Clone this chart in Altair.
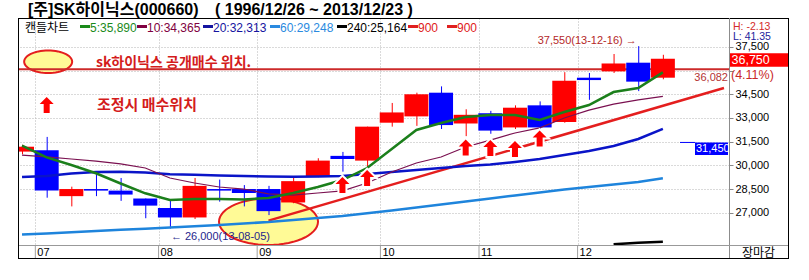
import math
import altair as alt
import pandas as pd

# ---------------- data (weekly candles, SK hynix 2013) ----------------
week_labels = ["06-24", "07-01", "07-08", "07-15", "07-22", "07-29", "08-05", "08-12", "08-19",
               "08-26", "09-02", "09-09", "09-16", "09-23", "09-30", "10-07", "10-14", "10-21",
               "10-28", "11-04", "11-11", "11-18", "11-25", "12-02", "12-09", "12-16", "12-23"]
opens = [30870, 30950, 28050, 28500, 28400, 27900, 27300, 26700, 28500, 28500, 28500, 27650, 29300,
         30600, 30300, 32700, 33100, 34600, 32650, 33300, 32400, 33800, 32750, 35550, 35950, 36500, 35550]
highs = [31300, 31800, 28650, 29550, 29200, 27900, 27800, 29200, 29100, 28750, 28700, 29250, 30450,
         30850, 32450, 33950, 34600, 35000, 33550, 33450, 33800, 34050, 35900, 35850, 37050, 37550, 37000]
lows = [30700, 27950, 27400, 28050, 27750, 26650, 26000, 26600, 27700, 27400, 26850, 27600, 29250,
        29600, 29700, 32450, 32500, 32300, 31850, 32000, 32300, 32250, 32700, 34150, 35850, 34700, 35450]
closes = [31180, 28400, 28500, 28400, 28150, 27450, 26700, 28700, 28400, 28250, 27100, 29000, 30300,
          30400, 32450, 33350, 34500, 32550, 33200, 32200, 33650, 32400, 35350, 35400, 36450, 35300, 36750]

ma5 = [31250, 30500, 30020, 29500, 28850, 28230, 27810, 27870, 27870, 27840, 27930, 28250, 28630,
       29070, 29830, 31040, 32240, 32680, 33060, 33190, 33190, 32870, 33380, 33820, 34640, 34900, 35890]
ma10 = [30650, 30530, 30400, 30270, 30090, 29830, 29200, 28880, 28630, 28500, 28190, 28120, 28250,
        28380, 28880, 29580, 30150, 30530, 31160, 31600, 32050, 32370, 33000, 33500, 33880, 34140, 34365]
ma20 = [29260, 29330, 29480, 29580, 29600, 29540, 29440, 29400, 29360, 29330, 29290, 29280, 29290,
        29330, 29450, 29580, 29700, 29830, 29960, 30050, 30210, 30400, 30660, 30910, 31230, 31670, 32313]
ma60 = [25620, 25690, 25770, 25850, 25920, 25990, 26060, 26140, 26220, 26320, 26410, 26540, 26670,
        26790, 26970, 27140, 27330, 27520, 27710, 27900, 28090, 28280, 28470, 28630, 28790, 28950, 29180]
ma240_weeks = [24, 25, 26]
ma240_tail = [25000, 25100, 25164]

month_labels = ["07", "08", "09", "10", "11", "12"]
month_first_week = [1, 6, 10, 15, 19, 23]
grid_values = [27000, 28500, 30000, 31500, 33000, 34500, 36000, 37500]

legend_names = ["5:35,890", "10:34,365", "20:32,313", "60:29,248", "240:25,164", "900", "900"]
resistance_price = 36082
marker_price = 31450
trend_weeks = [10.0, 28.48]
trend_prices = [26500, 34900]
buy_arrow_weeks = [1.0, 13, 14, 18, 19, 20, 21]
buy_arrow_prices = [33820, 28755, 29200, 31130, 31100, 31035, 31700]
ellipse_weeks = [1.06, 10.0]
ellipse_prices = [36563, 26432]

# ---------------- styling ----------------
FONT = "Liberation Sans, Noto Sans CJK KR, DejaVu Sans"
KFONT = "Noto Sans CJK KR, Liberation Sans, DejaVu Sans"
UP, DOWN = "#ff0000", "#0000ff"
C5, C10, C20, C60, C240 = "#1b7f1b", "#7a1050", "#0a14c8", "#1e84dc", "#000000"
LEG_COLORS = ["#1a8a1a", "#800040", "#1414a0", "#2a8ae0", "#000000", "#e02020", "#e02020"]
LEG_X = [61, 118, 184, 251, 318, 389, 428]
ANN_RED = "#d41c1c"

n = len(closes)
idx = list(range(n))
candles = pd.DataFrame({"i": idx, "week": week_labels, "open": opens, "high": highs,
                        "low": lows, "close": closes})
mas = pd.DataFrame({"i": idx, "ma5": ma5, "ma10": ma10, "ma20": ma20, "ma60": ma60})
ma240_df = pd.DataFrame({"i": ma240_weeks, "v": ma240_tail})
trend_df = pd.DataFrame({"i": trend_weeks, "v": trend_prices})
arrows_df = pd.DataFrame({"i": buy_arrow_weeks, "v": buy_arrow_prices})
months_df = pd.DataFrame({"i": [w - 0.46 for w in month_first_week], "label": month_labels})
one = pd.DataFrame({"k": [0]})

xs = alt.Scale(domain=[0.08, 28.48], nice=False, zero=False)
ys = alt.Scale(domain=[24956, 39330], nice=False, zero=False)
x_axis = alt.Axis(values=[w - 0.46 for w in month_first_week], grid=True, gridColor="#b4b4b4",
                  gridDash=[1, 2], labels=False, ticks=False, domain=False, title=None)
y_axis = alt.Axis(orient="right", values=grid_values, grid=True, gridColor="#b4b4b4",
                  gridDash=[1, 2], domain=False, ticks=True, tickSize=4, tickColor="#888888",
                  labelFont="Liberation Sans", labelFontSize=11, labelColor="#000000",
                  labelPadding=2, labelOverlap=False,
                  labelExpr="datum.value == 36000 ? '' : format(datum.value, ',')", title=None)


def X(f):
    return alt.X(f, type="quantitative", scale=xs, axis=x_axis)


def Y(f):
    return alt.Y(f, type="quantitative", scale=ys, axis=y_axis)


def ellipse_shape(ratio, k=60):
    pts = [(math.cos(2 * math.pi * j / k), ratio * math.sin(2 * math.pi * j / k)) for j in range(k)]
    return "M" + " L".join(f"{a:.4f},{b:.4f}" for a, b in pts) + " Z"


ARROW = "M0,-1 L0.875,-0.125 L0.375,-0.125 L0.375,1 L-0.375,1 L-0.375,-0.125 L-0.875,-0.125 Z"


def px_text(txt, x, y, color="#000000", size=11, weight="normal", font=FONT, align="left"):
    return alt.Chart(one).mark_text(text=txt, align=align, baseline="middle", font=font,
                                    fontSize=size, fontWeight=weight, color=color).encode(
        x=alt.value(x), y=alt.value(y))


def px_rule(x, y, x2=None, y2=None, color="#000000", width=1):
    enc = {"x": alt.value(x), "y": alt.value(y)}
    if x2 is not None:
        enc["x2"] = alt.value(x2)
    if y2 is not None:
        enc["y2"] = alt.value(y2)
    return alt.Chart(one).mark_rule(color=color, strokeWidth=width).encode(**enc)


def px_rect(x, y, x2, y2, color):
    return alt.Chart(one).mark_rect(color=color).encode(
        x=alt.value(x), x2=alt.value(x2), y=alt.value(y), y2=alt.value(y2))


def ann_text(txt, i, v, color, size, weight="normal", font=FONT):
    return alt.Chart(pd.DataFrame({"i": [i], "v": [v]})).mark_text(
        text=txt, align="left", baseline="middle", font=font, fontSize=size,
        fontWeight=weight, color=color).encode(x=X("i"), y=Y("v"))


layers = []

# ellipses (yellow highlight)
ell_sizes = [48, 99]
for ei, ev, w in zip(ellipse_weeks, ellipse_prices, ell_sizes):
    layers.append(alt.Chart(pd.DataFrame({"i": [ei], "v": [ev]})).mark_point(
        shape=ellipse_shape(0.47), size=w * w, filled=True, fill="#fffa96", stroke="#e41e1e",
        strokeWidth=2, opacity=1, clip=True).encode(x=X("i"), y=Y("v")))

# horizontal resistance line
layers.append(alt.Chart(pd.DataFrame({"v": [resistance_price]})).mark_rule(
    color="#cc2a2a", strokeWidth=2).encode(y=Y("v")))

# trend line
layers.append(alt.Chart(trend_df).mark_line(color="#e41e1e", strokeWidth=2.5, clip=True).encode(
    x=X("i"), y=Y("v")))

# candles
color_cond = alt.condition("datum.close >= datum.open", alt.value(UP), alt.value(DOWN))
layers.append(alt.Chart(candles).mark_rule(clip=True, strokeWidth=1, xOffset=0.5).encode(
    x=X("i"), y=Y("low"), y2=alt.Y2("high"), color=color_cond))
layers.append(alt.Chart(candles).mark_bar(clip=True, size=24).encode(
    x=X("i"), y=Y("open"), y2=alt.Y2("close"), color=color_cond))

# moving averages
layers.append(alt.Chart(mas).mark_line(color=C60, strokeWidth=2.5, clip=True).encode(x=X("i"), y=Y("ma60")))
layers.append(alt.Chart(mas).mark_line(color=C20, strokeWidth=2.5, clip=True).encode(x=X("i"), y=Y("ma20")))
layers.append(alt.Chart(mas).mark_line(color=C10, strokeWidth=1.2, clip=True).encode(x=X("i"), y=Y("ma10")))
layers.append(alt.Chart(mas).mark_line(color=C5, strokeWidth=2.5, clip=True).encode(x=X("i"), y=Y("ma5")))
layers.append(alt.Chart(ma240_df).mark_line(color=C240, strokeWidth=2.5, clip=True).encode(x=X("i"), y=Y("v")))

# buy arrows (white halo + red)
layers.append(alt.Chart(arrows_df).mark_point(shape=ARROW, size=256, filled=True, fill="#ffffff",
                                              stroke="#ffffff", strokeWidth=4, opacity=1).encode(
    x=X("i"), y=Y("v")))
layers.append(alt.Chart(arrows_df).mark_point(shape=ARROW, size=256, filled=True, fill="#ff0000",
                                              strokeWidth=0, opacity=1).encode(x=X("i"), y=Y("v")))

# annotations
ih = highs.index(max(highs))
il = lows.index(min(lows))
layers.append(ann_text("sk하이닉스 공개매수 위치.", 3.0, 36512, ANN_RED, 14, "bold", KFONT))
layers.append(ann_text("조정시 매수위치", 3.04, 33790, ANN_RED, 15, "bold", KFONT))
layers.append(ann_text(f"{max(highs):,}(13-{week_labels[ih]}) →", 20.92, 37842, "#b42828", 11))
layers.append(ann_text(f"← {min(lows):,}(13-{week_labels[il]})", 6.04, 25494, "#1e1e8c", 11))

# marker 31,450
mk = pd.DataFrame({"v": [marker_price]})
layers.append(alt.Chart(mk).mark_rule(color="#0000ff", strokeWidth=1).encode(
    y=Y("v"), x=alt.value(661), x2=alt.value(676)))
layers.append(alt.Chart(mk).mark_rect(color="#0000ff").encode(
    y=Y("v"), y2=alt.value(137), x=alt.value(676), x2=alt.value(709)))
layers.append(alt.Chart(mk).mark_text(text=f"{marker_price:,}", align="left", baseline="middle",
                                      font=FONT, fontSize=11, color="#ffffff", dy=6.5).encode(
    y=Y("v"), x=alt.value(677)))

# month labels & ticks in bottom band
layers.append(alt.Chart(months_df).mark_rule(color="#a0a0a0").encode(
    x=X("i"), y=alt.value(227), y2=alt.value(240)))
layers.append(alt.Chart(months_df).mark_text(align="left", baseline="middle", dx=2, font=FONT,
                                             fontSize=11, color="#000000").encode(
    x=X("i"), y=alt.value(234.5), text="label:N"))

# right panel
layers.append(px_text("H: -2.13", 714, 8.5, "#d42a2a", 10.5))
layers.append(px_text("L: 41.35", 714, 19, "#1c1c9c", 10.5))
layers.append(px_rect(711, 35.3, 769, 48.7, "#ff0000"))
layers.append(px_text(f"{closes[-1]:,}", 712.5, 42.3, "#ffffff", 12.5))
layers.append(px_text("(4.11%)", 712, 56.8, "#c82828", 12.5))
layers.append(px_text(f"{resistance_price:,}", 709, 59.5, "#b43232", 11, align="right"))
layers.append(px_text("장마감", 723, 234.5, "#000000", 12, font=KFONT))

# frame
layers.append(px_rule(-1, 0.5, x2=770, color="#000000"))
layers.append(px_rule(-0.5, 0, y2=241, color="#000000"))
layers.append(px_rule(769.5, 0, y2=241, color="#000000"))
layers.append(px_rule(-1, 240.5, x2=770, color="#000000"))
layers.append(px_rule(710.5, 0, y2=240, color="#8c8c8c"))
layers.append(px_rule(0, 227.5, x2=769, color="#999999"))

# legend row
layers.append(px_text("캔들차트", 6, 9.5, "#000000", 12, font=KFONT))
for name, col, lx in zip(legend_names, LEG_COLORS, LEG_X):
    layers.append(px_rule(lx, 8.5, x2=lx + 10, color=col, width=3))
    layers.append(px_text(name, lx + 10, 9.5, col, 12))

# title
layers.append(px_text("[주]SK하이닉스(000660)", 9, -8, "#000000", 16, "bold"))
layers.append(px_text("( 1996/12/26 ~ 2013/12/23 )", 196, -8, "#000000", 16, "bold"))

chart = alt.layer(*layers).properties(
    width=710, height=227,
    padding={"left": 19, "top": 18, "right": 80, "bottom": 35},
    autosize=alt.AutoSizeParams(type="none"),
    background="#ffffff",
).configure_view(stroke=None)

chart.save("out.html", embed_options={"renderer": "svg", "actions": False})
